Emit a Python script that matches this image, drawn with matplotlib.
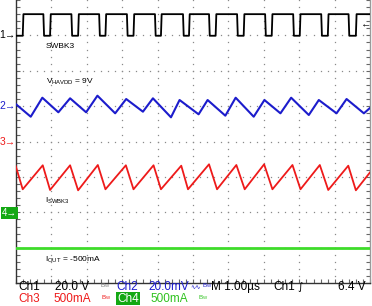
import numpy as np
import matplotlib
matplotlib.use("Agg")
import matplotlib.pyplot as plt

plt.rcParams['font.family'] = ['Liberation Sans', 'DejaVu Sans']

# ---------------- data (screen divisions: x 0..10, y -4..4) ----------------
# Ch1 (SWBK3 switch node) edges and levels
ch1_rise = [0.198, 0.969, 1.760, 2.531, 3.322, 4.096, 4.887, 5.638, 6.429, 7.220, 8.011, 8.802, 9.593]
ch1_fall = [0.780, 1.571, 2.353, 3.136, 3.927, 4.718, 5.452, 6.243, 7.034, 7.825, 8.616, 9.387]
ch1_high = 3.60
ch1_low = 2.99

# Ch2 (VHAVDD ripple) peaks / troughs
ch2_peak_t = [0.751, 1.534, 2.305, 3.116, 3.870, 4.621, 5.412, 6.203, 7.014, 7.768, 8.548, 9.331]
ch2_peak_v = [1.240, 1.223, 1.297, 1.203, 1.223, 1.175, 1.175, 1.240, 1.175, 1.240, 1.175, 1.203]
ch2_min_t = [0.424, 1.203, 1.986, 2.805, 3.588, 4.379, 5.158, 5.912, 6.712, 7.466, 8.266, 9.048, 9.819]
ch2_min_v = [0.703, 0.828, 0.828, 0.799, 0.845, 0.686, 0.771, 0.732, 0.703, 0.799, 0.751, 0.799, 0.799]
ch2_start = 1.062
ch2_end = 0.958

# Ch3 (ISWBK3 inductor current) sawtooth
ch3_peak_t = [0.763, 1.534, 2.316, 3.107, 3.887, 4.669, 5.452, 6.223, 7.006, 7.805, 8.576, 9.379]
ch3_peak_v = [-0.669, -0.669, -0.661, -0.669, -0.669, -0.681, -0.641, -0.661, -0.641, -0.661, -0.661, -0.681]
ch3_min_t = [0.198, 0.969, 1.760, 2.531, 3.322, 4.096, 4.859, 5.678, 6.458, 7.240, 8.031, 8.814, 9.593]
ch3_min_v = [-1.347, -1.367, -1.376, -1.347, -1.347, -1.347, -1.347, -1.347, -1.347, -1.347, -1.347, -1.367, -1.376]
ch3_start = -0.69
ch3_end = -0.86

# Ch4 (IOUT) flat
ch4_t = [0.0, 10.0]
ch4_v = [-3.01, -3.01]

# ---------------- figure ----------------
W, H = 372, 306
fig = plt.figure(figsize=(W / 100, H / 100), dpi=100)
fig.patch.set_facecolor('white')

L, R, B, T = 15.7, 370.3, 283.2, 0.0
ax = fig.add_axes([L / W, 1 - B / H, (R - L) / W, (B - T) / H])
ax.set_xlim(0, 10)
ax.set_ylim(-4, 4)
ax.set_facecolor('white')

# frame and minor ticks
for s in ['left', 'bottom']:
    ax.spines[s].set_color('#333333')
    ax.spines[s].set_linewidth(1.0)
ax.spines['right'].set_color('#9a9a9a')
ax.spines['right'].set_linewidth(1.0)
ax.spines['top'].set_visible(False)
ax.set_xticks(np.arange(0, 10.001, 0.2))
ax.set_yticks(np.arange(-4, 4.001, 0.2))
ax.tick_params(axis='both', direction='in', length=3, width=0.8, color='#666666',
               labelbottom=False, labelleft=False, top=False, right=True)

# dotted graticule
gx, gy = [], []
for k in range(1, 10):
    ys = np.arange(-4, 4.001, 0.2)
    gx += [k] * len(ys)
    gy += list(ys)
for j in range(-3, 4):
    xs = np.arange(0, 10.001, 0.2)
    gx += list(xs)
    gy += [j] * len(xs)
ax.plot(gx, gy, ls='none', marker='s', ms=0.9, mew=0, color='#8a8a8a', zorder=1)

# Ch1 trace
edge = 0.02
t1 = [0.0]
v1 = [ch1_low]
for i, r in enumerate(ch1_rise):
    t1 += [r, r + edge]
    v1 += [ch1_low, ch1_high]
    if i < len(ch1_fall):
        f = ch1_fall[i]
        t1 += [f, f + edge]
        v1 += [ch1_high, ch1_low]
t1.append(10.0)
v1.append(ch1_high)
ax.plot(t1, v1, color='black', lw=1.3, zorder=3)

# Ch2 trace
pts2 = [(0.0, ch2_start)] + list(zip(ch2_min_t, ch2_min_v)) + list(zip(ch2_peak_t, ch2_peak_v)) + [(10.0, ch2_end)]
pts2.sort()
ax.plot([p[0] for p in pts2], [p[1] for p in pts2], color='#1c1ccc', lw=1.5, zorder=3)

# Ch3 trace
pts3 = [(0.0, ch3_start)] + list(zip(ch3_min_t, ch3_min_v)) + list(zip(ch3_peak_t, ch3_peak_v)) + [(10.0, ch3_end)]
pts3.sort()
ax.plot([p[0] for p in pts3], [p[1] for p in pts3], color='#ee1a1a', lw=1.3, zorder=3)

# Ch4 trace
ax.plot(ch4_t, ch4_v, color='#3edc2a', lw=2.0, zorder=3)


def px(x, y):
    return x / W, 1 - y / H


# in-plot labels
fs_in = 6
fig.text(*px(45.5, 46.3), 'SWBK3', fontsize=fs_in, va='center', ha='left')
fig.text(*px(45.5, 81.5), r'V$_{\mathregular{HAVDD}}$ = 9V', fontsize=fs_in, va='center', ha='left')
fig.text(*px(45.0, 200.5), r'I$_{\mathregular{SWBK3}}$', fontsize=fs_in, va='center', ha='left')
fig.text(*px(45.0, 259.5), r'I$_{\mathregular{OUT}}$ = -500mA', fontsize=fs_in, va='center', ha='left')

# channel markers
fig.text(*px(15.5, 35.5), '1\u2192', fontsize=7.5, color='black', va='center', ha='right')
fig.text(*px(15.5, 106.0), '2\u2192', fontsize=7.5, color='#1c1ccc', va='center', ha='right')
fig.text(*px(15.5, 142.0), '3\u2192', fontsize=7.5, color='#ee1a1a', va='center', ha='right')
fig.text(*px(1.5, 213.0), '4\u2192', fontsize=7, color='white', va='center', ha='left',
         bbox=dict(boxstyle='square,pad=0.1', facecolor='#13a813', edgecolor='none'))
fig.text(*px(371.5, 24.3), '\u2190', fontsize=7.5, color='black', va='center', ha='right')

# bottom status rows
fs = 8.5
y1, y2 = 287.0, 298.5
fig.text(*px(18, y1), 'Ch1', fontsize=fs, color='black', va='center')
fig.text(*px(55, y1), '20.0 V', fontsize=fs, color='black', va='center')
fig.text(*px(100, y1 - 1), r'B$_{\mathregular{W}}$', fontsize=4.5, color='#777777', va='center')
fig.text(*px(116.5, y1), 'Ch2', fontsize=fs, color='#1c1ccc', va='center')
fig.text(*px(148.3, y1), '20.0mV', fontsize=fs, color='#1c1ccc', va='center')
fig.text(*px(190.5, y1 + 0.5), '\u223f\u223f', fontsize=4.5, color='#1c1ccc', va='center', family='DejaVu Sans')
fig.text(*px(201.5, y1 - 1), r'B$_{\mathregular{W}}$', fontsize=4.5, color='#1c1ccc', va='center')
fig.text(*px(211, y1), 'M 1.00\u00b5s', fontsize=fs, color='black', va='center')
fig.text(*px(273.3, y1), 'Ch1', fontsize=fs, color='black', va='center')
fig.text(*px(297.5, y1), '\u222b', fontsize=7.5, color='black', va='center', family='DejaVu Sans')
fig.text(*px(338.3, y1), '6.4 V', fontsize=fs, color='black', va='center')

fig.text(*px(18, y2), 'Ch3', fontsize=fs, color='#ee1a1a', va='center')
fig.text(*px(53, y2), '500mA', fontsize=fs, color='#ee1a1a', va='center')
fig.text(*px(101, y2 - 1), r'B$_{\mathregular{W}}$', fontsize=4.5, color='#ee1a1a', va='center')
fig.text(*px(117, y2), 'Ch4', fontsize=fs, color='white', va='center',
         bbox=dict(boxstyle='square,pad=0.08', facecolor='#13a813', edgecolor='none'))
fig.text(*px(150.7, y2), '500mA', fontsize=fs, color='#2fc21f', va='center')
fig.text(*px(198, y2 - 1), r'B$_{\mathregular{W}}$', fontsize=4.5, color='#2fc21f', va='center')

fig.savefig('out.png', dpi=100, facecolor='white')
